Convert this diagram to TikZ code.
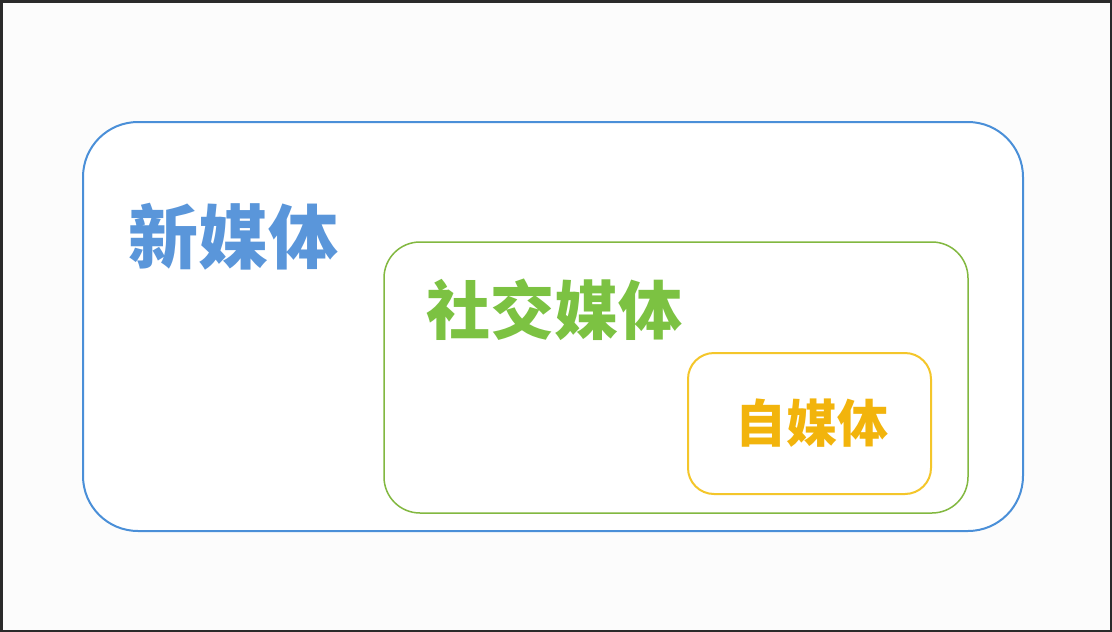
\documentclass[tikz,border=0pt]{standalone}
\usepackage{fontspec}
\newfontfamily\cjk{Noto Sans CJK SC}
\definecolor{outerblue}{HTML}{4A8FD8}
\definecolor{midgreen}{HTML}{82B840}
\definecolor{inneryellow}{HTML}{F4C62A}
\definecolor{txtblue}{HTML}{5A96DA}
\definecolor{txtgreen}{HTML}{7CC242}
\definecolor{txtyellow}{HTML}{F2B40C}
\definecolor{framegray}{HTML}{2A2A2A}
\definecolor{bg}{HTML}{FCFCFC}
\tikzset{
  label/.style={inner sep=0pt},
}
\begin{document}
\begin{tikzpicture}[x=1pt,y=-1pt]
\useasboundingbox (0,0) rectangle (1112,632);
\fill[bg] (0,0) rectangle (1112,632);
\draw[draw=framegray, line width=2.5pt] (1.25,1.25) rectangle (1110.75,630.75);
\draw[draw=outerblue, fill=white, line width=2pt, rounded corners=55pt] (83,122) rectangle (1023,531);
\draw[draw=midgreen, fill=white, line width=1.5pt, rounded corners=36pt] (384,242) rectangle (968,513);
\draw[draw=inneryellow, fill=white, line width=2pt, rounded corners=26pt] (688,353) rectangle (931,494);
\node[label, text=txtblue, font=\cjk\bfseries\fontsize{70}{70}\selectfont] (xinmeiti) at (233,237) {新媒体};
\node[label, text=txtgreen, font=\cjk\bfseries\fontsize{64}{64}\selectfont] (shejiao) at (554,310) {社交媒体};
\node[label, text=txtyellow, font=\cjk\bfseries\fontsize{51}{51}\selectfont] (zimeiti) at (812,423) {自媒体};
\end{tikzpicture}
\end{document}
